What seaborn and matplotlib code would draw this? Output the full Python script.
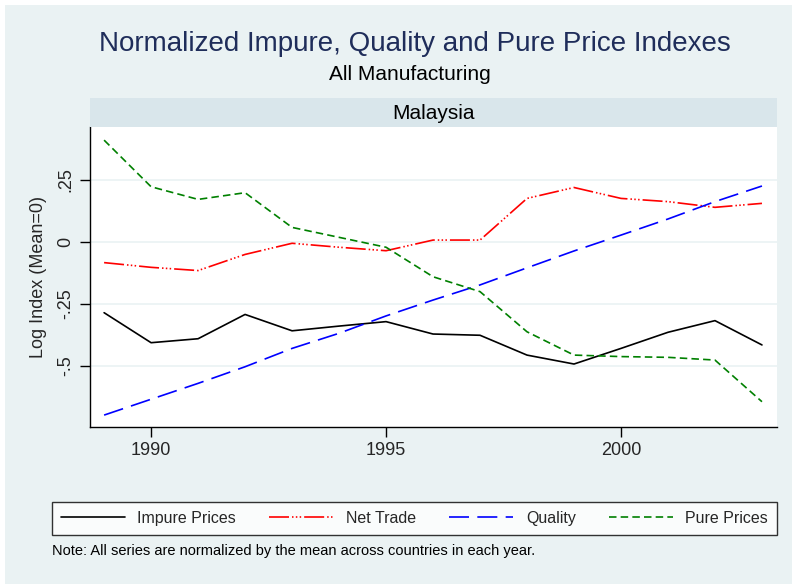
import numpy as np
import pandas as pd
import matplotlib
matplotlib.use("Agg")
import matplotlib.pyplot as plt
from matplotlib.patches import Rectangle
import seaborn as sns

# values
years = list(range(1989, 2004))
impure = [-0.285, -0.406, -0.390, -0.292, -0.358, -0.339, -0.321, -0.371,
          -0.376, -0.456, -0.492, -0.429, -0.364, -0.317, -0.415]
net_trade = [-0.083, -0.102, -0.115, -0.050, -0.005, -0.021, -0.035, 0.008,
             0.008, 0.176, 0.220, 0.176, 0.163, 0.140, 0.156]
quality = [-0.698, -0.634, -0.570, -0.503, -0.429, -0.368, -0.298, -0.234,
           -0.173, -0.104, -0.036, 0.028, 0.093, 0.163, 0.226]
pure = [0.411, 0.223, 0.172, 0.199, 0.059, 0.019, -0.021, -0.140,
        -0.200, -0.362, -0.456, -0.462, -0.465, -0.476, -0.644]
series_names = ["Impure Prices", "Net Trade", "Quality", "Pure Prices"]
y_ticks = [-0.5, -0.25, 0, 0.25]
y_tick_labels = ["-.5", "-.25", "0", ".25"]
x_ticks = [1990, 1995, 2000]

df = pd.DataFrame({
    "year": years * 4,
    "value": impure + net_trade + quality + pure,
    "series": [s for s in series_names for _ in years],
})

bg = "#EAF2F3"
strip_col = "#D9E6EB"
palette = {"Impure Prices": "black", "Net Trade": "#FF0000",
           "Quality": "#0000FF", "Pure Prices": "#008000"}
dashes = {"Impure Prices": "", "Net Trade": (12, 1.8, 0.9, 1.4, 0.9, 1.4, 0.9, 1.8),
          "Quality": (12, 5), "Pure Prices": (4.5, 2.5)}

sns.set_theme(style="white")
plt.rcParams["font.family"] = ["Liberation Sans", "DejaVu Sans"]

fig = plt.figure(figsize=(7.92, 5.84), dpi=100, facecolor="white")
fig.patches.append(Rectangle((5 / 792, 0), 1, 1 - 5 / 584, transform=fig.transFigure,
                             facecolor=bg, edgecolor="none", zorder=-10))

ax = fig.add_axes([90 / 792, 157 / 584, 687 / 792, 300 / 584])
ax.set_facecolor("white")
sns.lineplot(data=df, x="year", y="value", hue="series", style="series",
             palette=palette, dashes=dashes, hue_order=series_names,
             style_order=series_names, linewidth=1.2, ax=ax, legend=False)

ax.set_xlim(1988.70, 2003.32)
ax.set_ylim(-0.746, 0.464)
ax.set_xticks(x_ticks)
ax.set_xticklabels([str(t) for t in x_ticks], fontsize=13)
ax.set_yticks(y_ticks)
ax.set_yticklabels(y_tick_labels, fontsize=13, rotation=90, va="center")
ax.grid(axis="y", color=bg, linewidth=1.2)
ax.set_axisbelow(True)
for side in ["top", "right"]:
    ax.spines[side].set_visible(False)
for side in ["left", "bottom"]:
    ax.spines[side].set_color("black")
    ax.spines[side].set_linewidth(1.0)
ax.tick_params(axis="both", direction="out", length=7, width=1, color="black", pad=4,
               left=True, bottom=True)
ax.set_xlabel("")
ax.set_ylabel("Log Index (Mean=0)", fontsize=13, labelpad=8)

# strip header
strip = fig.add_axes([90 / 792, 457 / 584, 687 / 792, 29 / 584])
strip.set_facecolor(strip_col)
strip.set_xticks([])
strip.set_yticks([])
for s in strip.spines.values():
    s.set_visible(False)
strip.text(0.5, 0.45, "Malaysia", ha="center", va="center", fontsize=15, color="black")

fig.text(0.524, 1 - 44 / 584, "Normalized Impure, Quality and Pure Price Indexes",
         ha="center", va="center", fontsize=20, color="#1F2D5A")
fig.text(0.518, 1 - 74 / 584, "All Manufacturing", ha="center", va="center",
         fontsize=15, color="black")

handles = [plt.Line2D([], [], color=palette[n], linewidth=1.2,
                      linestyle=(0, dashes[n]) if dashes[n] else "-") for n in series_names]
leg = fig.legend(handles, series_names, loc="center", ncol=4, mode="expand",
                 bbox_to_anchor=(52 / 792, 1 - 538 / 584, 725 / 792, 39 / 584),
                 fontsize=11.5, frameon=True, fancybox=False, handlelength=4.0,
                 columnspacing=1.0, handletextpad=0.8, borderpad=0.55, borderaxespad=0)
leg.get_frame().set_edgecolor("black")
leg.get_frame().set_facecolor("white")
leg.get_frame().set_linewidth(1.0)

fig.text(52 / 792, 1 - 551 / 584,
         "Note: All series are normalized by the mean across countries in each year.",
         ha="left", va="center", fontsize=10.5, color="black")

fig.savefig("out.png", dpi=100, facecolor=fig.get_facecolor())
